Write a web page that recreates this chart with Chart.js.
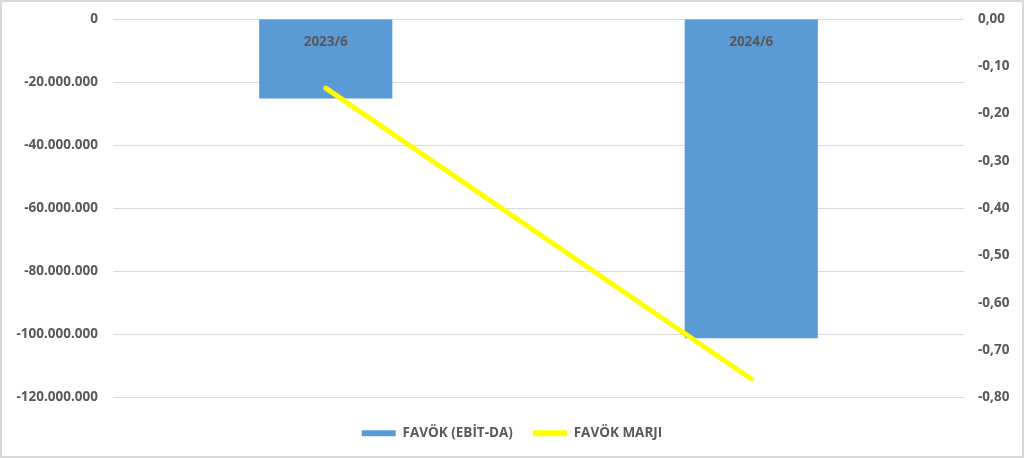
<!DOCTYPE html>
<html>
<head>
<meta charset="utf-8">
<script src="https://cdn.jsdelivr.net/npm/chart.js@4/dist/chart.umd.min.js"></script>
<style>
    html, body { margin: 0; padding: 0; background: #fff; }
    #wrap {
        position: relative;
        width: 1024px;
        height: 458px;
        box-sizing: border-box;
        border: 2px solid #d9d9d9;
    }
    #chart { position: absolute; left: -2px; top: -2px; }
</style>
</head>
<body>
<div id="wrap">
    <canvas id="chart" width="1024" height="458"></canvas>
</div>
<script>
// Chart data
const categories = ['2023/6', '2024/6'];
const favokValues = [-25200000, -101200000];
const marginValues = [-0.146, -0.761];
const seriesNames = ['FAVÖK (EBİT-DA)', 'FAVÖK MARJI'];

const textColor = '#595959';
const fontFamily = '"Open Sans", Lato, sans-serif';
const fontSize = 13.5;

function formatThousands(v) {
    const sign = v < 0 ? '-' : '';
    return sign + Math.abs(Math.round(v)).toString().replace(/\B(?=(\d{3})+(?!\d))/g, '.');
}

// Category names are drawn just under the zero line, like the source
const categoryLabels = {
    id: 'categoryLabels',
    afterDatasetsDraw(chart) {
        const ctx = chart.ctx;
        const x = chart.scales.x;
        const y0 = chart.scales.y.getPixelForValue(0);
        ctx.save();
        ctx.font = 'bold ' + fontSize + 'px ' + fontFamily;
        ctx.fillStyle = textColor;
        ctx.textAlign = 'center';
        ctx.textBaseline = 'middle';
        categories.forEach((c, i) => {
            ctx.fillText(c, x.getPixelForValue(i), y0 + 23);
        });
        ctx.restore();
    }
};

// keep the plot area where the source has it
function fixVertical(width) {
    return function(scale) {
        scale.width = width;
        scale.paddingTop = 19;
        scale.paddingBottom = 0;
    };
}

new Chart(document.getElementById('chart'), {
    type: 'bar',
    data: {
        labels: categories,
        datasets: [{
            type: 'bar',
            label: seriesNames[0],
            data: favokValues,
            backgroundColor: '#5b9bd5',
            barPercentage: 1,
            categoryPercentage: 0.313,
            yAxisID: 'y',
            order: 2
        }, {
            type: 'line',
            label: seriesNames[1],
            data: marginValues,
            borderColor: '#ffff00',
            backgroundColor: '#ffff00',
            borderWidth: 5,
            borderCapStyle: 'round',
            pointRadius: 0,
            yAxisID: 'y1',
            order: 1
        }]
    },
    options: {
        responsive: false,
        animation: false,
        layout: { padding: { top: 0, left: 0, right: 0, bottom: 8 } },
        plugins: {
            tooltip: { enabled: false },
            legend: {
                position: 'bottom',
                labels: {
                    color: textColor,
                    font: { family: fontFamily, size: fontSize, weight: 'bold' },
                    boxWidth: 34,
                    boxHeight: 6,
                    padding: 20,
                    sort: (a, b) => a.datasetIndex - b.datasetIndex,
                    generateLabels(chart) {
                        const items = Chart.defaults.plugins.legend.labels.generateLabels(chart);
                        items.forEach(item => {
                            item.lineWidth = 0;
                            item.fillStyle = chart.data.datasets[item.datasetIndex].backgroundColor;
                        });
                        return items;
                    }
                }
            }
        },
        scales: {
            x: {
                ticks: { display: false },
                grid: { display: false },
                border: { display: false },
                afterFit(scale) { scale.height = 9; }
            },
            y: {
                position: 'left',
                min: -120000000,
                max: 0,
                ticks: {
                    stepSize: 20000000,
                    padding: 15,
                    color: textColor,
                    font: { family: fontFamily, size: fontSize, weight: 'bold' },
                    callback: v => formatThousands(v)
                },
                grid: { color: '#d9d9d9', lineWidth: 1, drawTicks: false },
                border: { display: false },
                afterFit: fixVertical(113)
            },
            y1: {
                position: 'right',
                min: -0.8,
                max: 0,
                ticks: {
                    stepSize: 0.1,
                    padding: 14,
                    color: textColor,
                    font: { family: fontFamily, size: fontSize, weight: 'bold' },
                    callback: v => v.toFixed(2).replace('.', ',')
                },
                grid: { display: false, drawTicks: false },
                border: { display: false },
                afterFit: fixVertical(60)
            }
        }
    },
    plugins: [categoryLabels]
});
</script>
</body>
</html>
